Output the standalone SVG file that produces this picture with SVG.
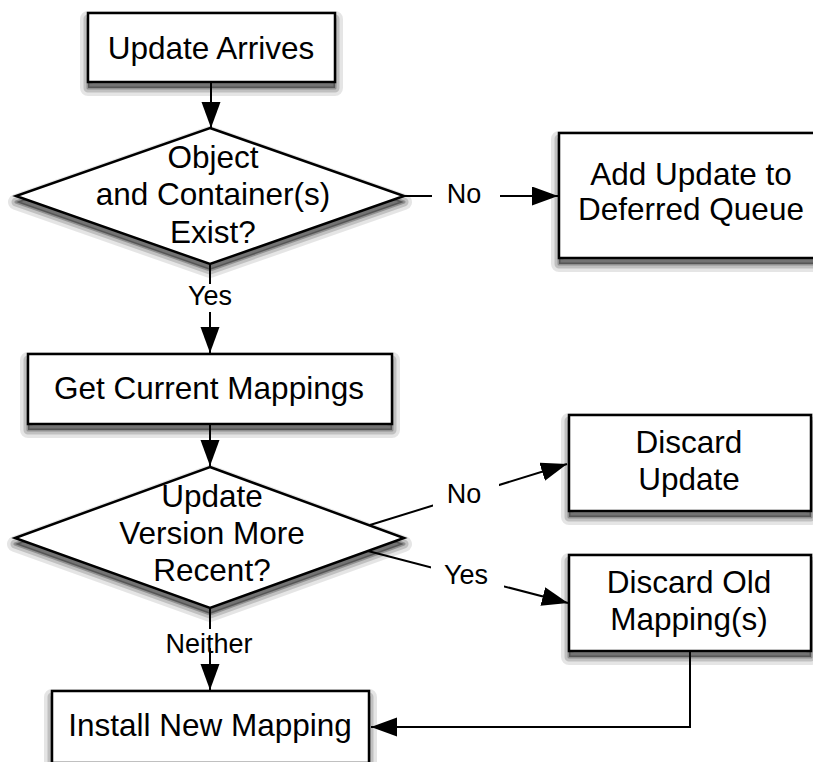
<svg xmlns="http://www.w3.org/2000/svg" width="813" height="762" viewBox="0 0 813 762">
<defs>
<marker id="ah" markerUnits="userSpaceOnUse" markerWidth="28" markerHeight="20" refX="26" refY="9.5" orient="auto">
<path d="M0,0 L26,9.5 L0,19 z" fill="#000"/>
</marker>
</defs>
<style>
.n{fill:#fff;stroke:#000;stroke-width:2.5}
.s1{fill:none;stroke:#000;stroke-opacity:.1;stroke-width:16;stroke-linejoin:round}
.s2{fill:none;stroke:#000;stroke-opacity:.16;stroke-width:9;stroke-linejoin:round}
.s3{fill:#000;fill-opacity:.4;stroke:#000;stroke-opacity:.25;stroke-width:3;stroke-linejoin:round}
.t{font-family:"Liberation Sans",Arial,sans-serif;font-size:31.5px;text-anchor:middle;fill:#000}
.l{font-family:"Liberation Sans",Arial,sans-serif;font-size:27px;text-anchor:middle;fill:#000}
.c{fill:none;stroke:#000;stroke-width:2}
.a{marker-end:url(#ah)}
.bg{fill:#fff;stroke:none}
</style>
<rect width="813" height="762" fill="#fff"/>
<g id="n-update-arrives">
<g transform="translate(0,6)"><rect class="s1" x="88" y="13" width="247" height="69"/><rect class="s2" x="88" y="13" width="247" height="69"/><rect class="s3" x="88" y="13" width="247" height="69"/></g>
<rect class="n" x="88" y="13" width="247" height="69"/>
<text class="t" x="211" y="59">Update Arrives</text>
</g>
<g id="n-exist">
<g transform="translate(0,6)"><polygon class="s1" points="210,128 404,196 210,264 16,196"/><polygon class="s2" points="210,128 404,196 210,264 16,196"/><polygon class="s3" points="210,128 404,196 210,264 16,196"/></g>
<polygon class="n" points="210,128 404,196 210,264 16,196"/>
<text class="t" x="213" y="168">Object</text>
<text class="t" x="213" y="205">and Container(s)</text>
<text class="t" x="213" y="243">Exist?</text>
</g>
<g id="n-deferred">
<g transform="translate(0,6)"><rect class="s1" x="559" y="133" width="264" height="125"/><rect class="s2" x="559" y="133" width="264" height="125"/><rect class="s3" x="559" y="133" width="264" height="125"/></g>
<rect class="n" x="559" y="133" width="264" height="125"/>
<text class="t" x="691" y="185">Add Update to</text>
<text class="t" x="691" y="220">Deferred Queue</text>
</g>
<g id="n-get-current">
<g transform="translate(0,6)"><rect class="s1" x="28" y="354" width="364" height="70"/><rect class="s2" x="28" y="354" width="364" height="70"/><rect class="s3" x="28" y="354" width="364" height="70"/></g>
<rect class="n" x="28" y="354" width="364" height="70"/>
<text class="t" x="209" y="399">Get Current Mappings</text>
</g>
<g id="n-version">
<g transform="translate(0,6)"><polygon class="s1" points="210,467 404,538 210,608 15,538"/><polygon class="s2" points="210,467 404,538 210,608 15,538"/><polygon class="s3" points="210,467 404,538 210,608 15,538"/></g>
<polygon class="n" points="210,467 404,538 210,608 15,538"/>
<text class="t" x="212" y="507">Update</text>
<text class="t" x="212" y="544">Version More</text>
<text class="t" x="212" y="581">Recent?</text>
</g>
<g id="n-discard-update">
<g transform="translate(0,6)"><rect class="s1" x="569" y="415" width="242" height="96"/><rect class="s2" x="569" y="415" width="242" height="96"/><rect class="s3" x="569" y="415" width="242" height="96"/></g>
<rect class="n" x="569" y="415" width="242" height="96"/>
<text class="t" x="689" y="453">Discard</text>
<text class="t" x="689" y="490">Update</text>
</g>
<g id="n-discard-old">
<g transform="translate(0,6)"><rect class="s1" x="569" y="555" width="242" height="96"/><rect class="s2" x="569" y="555" width="242" height="96"/><rect class="s3" x="569" y="555" width="242" height="96"/></g>
<rect class="n" x="569" y="555" width="242" height="96"/>
<text class="t" x="689" y="593">Discard Old</text>
<text class="t" x="689" y="630">Mapping(s)</text>
</g>
<g id="n-install">
<g transform="translate(0,6)"><rect class="s1" x="52" y="691" width="317" height="72"/><rect class="s2" x="52" y="691" width="317" height="72"/><rect class="s3" x="52" y="691" width="317" height="72"/></g>
<rect class="n" x="52" y="691" width="317" height="72"/>
<text class="t" x="210" y="736">Install New Mapping</text>
</g>
<g id="connectors">
<line class="c a" x1="211" y1="83" x2="211" y2="128"/>
<line class="c a" x1="404" y1="196" x2="558" y2="196"/>
<line class="c a" x1="210" y1="265" x2="210" y2="353"/>
<line class="c a" x1="210" y1="425" x2="210" y2="466"/>
<line class="c a" x1="370" y1="525" x2="567" y2="464"/>
<line class="c a" x1="368" y1="551" x2="568" y2="603"/>
<line class="c a" x1="210" y1="609" x2="210" y2="690"/>
<polyline class="c a" points="690,652 690,727 371,727"/>
<rect class="bg" x="432" y="182" width="68" height="28"/>
<text class="l" x="464" y="203">No</text>
<rect class="bg" x="186" y="284" width="48" height="28"/>
<text class="l" x="210" y="305">Yes</text>
<rect class="bg" x="433" y="478" width="66" height="32"/>
<text class="l" x="464" y="503">No</text>
<rect class="bg" x="431" y="560" width="73" height="32"/>
<text class="l" x="466" y="584">Yes</text>
<rect class="bg" x="189" y="629" width="42" height="19"/>
<text class="l" x="209" y="653">Neither</text>
</g>
</svg>
